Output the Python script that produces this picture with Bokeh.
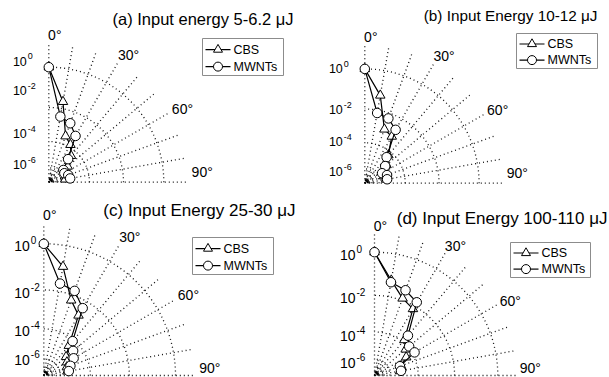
import math
from bokeh.plotting import figure
from bokeh.models import Range1d
from bokeh.layouts import column, row
from bokeh.embed import file_html
from bokeh.resources import INLINE
from bokeh.core.properties import value

# ---------------- data (log10 of normalised intensity) ----------------
angle_deg = [0, 10, 20, 30, 40, 50, 60, 70, 80]
titles = ["(a) Input energy 5-6.2 \u03bcJ", "(b) Input Energy 10-12 \u03bcJ",
          "(c) Input Energy 25-30 \u03bcJ", "(d) Input Energy 100-110 \u03bcJ"]
series_names = ["CBS", "MWNTs"]
cbs_a = [0.0, -1.63, -3.47, -3.83, -4.41, -5.14, -5.59, -5.74, -5.79]
mwnt_a = [0.0, -2.44, -2.66, -3.20, -4.73, -5.59, -5.68, -5.45, -5.37]
cbs_b = [0.0, -1.22, -2.95, -3.15, -4.25, -4.84, -5.34, -5.45, -5.36]
mwnt_b = [0.0, -2.16, -2.29, -2.70, -4.44, -4.97, -5.50, -5.20, -5.28]
cbs_c = [0.0, -0.88, -2.26, -2.78, -4.45, -5.08, -5.24, -5.39, -5.43]
mwnt_c = [0.0, -1.64, -1.79, -2.37, -4.10, -4.49, -4.73, -5.13, -5.33]
cbs_d = [0.0, -1.20, -1.90, -2.16, -3.83, -4.18, -4.44, -5.00, -5.17]
mwnt_d = [0.0, -1.29, -1.48, -1.78, -3.50, -3.90, -3.84, -5.09, -5.10]
ring_exponents = [0, -2, -4, -6]
angle_ticks = [0, 30, 60, 90]
spoke_angles = [0, 10, 20, 30, 40, 50, 60, 70, 80, 90]

FONT = value("Liberation Sans")


def to_u(logv):
    # radial coordinate of the polar-log display
    return (logv + 8.0) ** 1.5


U_MAX = to_u(0)

layouts = [
    dict(box=(0, 0, 300, 195), origin=(48.3, 181.7, 115.0), spoke=27.2, ulab=29.0,
         title=(293, 18, "right", "16.5px"), leg=(202, 38, 283, 75),
         lab_dx=-22, lab_dy=[-6, -17, -8, -3], lab_size="12.5px", sup_size="9px", sup_dy=-5,
         d90=-10),
    dict(box=(300, 0, 309, 195), origin=(364.3, 182.7, 114.3), spoke=27.5, ulab=29.0,
         title=(597, 15, "right", "15.3px"), leg=(516, 33, 597, 68),
         lab_dx=-22, lab_dy=[0, 1, -1, 3], lab_size="12.5px", sup_size="9px", sup_dy=-5,
         d90=-10),
    dict(box=(0, 195, 300, 182), origin=(43.3, 375.0, 131.7), spoke=26.0, ulab=27.5,
         title=(295, 210, "right", "17px"), leg=(192, 237, 273, 274),
         lab_dx=-14, lab_dy=[2, 3, 2, 1], lab_size="14px", sup_size="10px", sup_dy=-6,
         d90=-8),
    dict(box=(300, 195, 309, 182), origin=(374.0, 375.0, 123.3), spoke=26.0, ulab=27.5,
         title=(607, 218, "right", "17px"), leg=(510, 242, 590, 277),
         lab_dx=-19, lab_dy=[3, 3, 4, 3], lab_size="14px", sup_size="10px", sup_dy=-6,
         d90=-8),
]

DOT = dict(line_color="#111111", line_width=1.3, line_dash="1 3")


def make_panel(cfg, cbs, mwnt, title):
    left, top, w, h = cfg["box"]
    ox, oy, R0 = cfg["origin"]
    s = R0 / U_MAX
    ol = ox - left
    ob = top + h - oy
    p = figure(width=w, height=h,
               x_range=Range1d(-ol / s, (w - ol) / s),
               y_range=Range1d(-ob / s, (h - ob) / s),
               x_axis_type=None, y_axis_type=None,
               output_backend="svg", toolbar_location=None,
               min_border=0, outline_line_color=None,
               background_fill_color="white", border_fill_color="white")

    def X(px):
        return (px - ox) / s

    def Y(py):
        return (oy - py) / s

    # spokes
    us = cfg["spoke"]
    p.segment(x0=[0] * len(spoke_angles), y0=[0] * len(spoke_angles),
              x1=[us * math.sin(math.radians(a)) for a in spoke_angles],
              y1=[us * math.cos(math.radians(a)) for a in spoke_angles], **DOT)
    # rings
    p.arc(x=[0] * len(ring_exponents), y=[0] * len(ring_exponents),
          radius=[to_u(e) for e in ring_exponents],
          start_angle=0, end_angle=math.pi / 2, **DOT)
    # crowded rings near the origin
    p.arc(x=[0, 0, 0], y=[0, 0, 0], radius=[1.0, 1.4, 1.8],
          start_angle=0, end_angle=math.pi / 2, **DOT)
    p.arc(x=[0], y=[0], radius=[0.6], start_angle=0, end_angle=math.pi / 2,
          line_color="black", line_width=2.2)

    # radial tick labels 10^n
    for e, dy in zip(ring_exponents, cfg["lab_dy"]):
        p.text(x=[0], y=[to_u(e)], text=["10"], text_align="right", text_baseline="middle",
               x_offset=cfg["lab_dx"], y_offset=dy, text_font=FONT,
               text_font_size=cfg["lab_size"], text_color="black")
        p.text(x=[0], y=[to_u(e)], text=[str(e)], text_align="left", text_baseline="middle",
               x_offset=cfg["lab_dx"] + 1, y_offset=dy + cfg["sup_dy"], text_font=FONT,
               text_font_size=cfg["sup_size"], text_color="black")

    # angle labels
    ul = cfg["ulab"]
    for t in angle_ticks:
        p.text(x=[ul * math.sin(math.radians(t))], y=[ul * math.cos(math.radians(t))],
               text=[f"{t}\u00b0"], text_align="center", text_baseline="middle",
               x_offset=6, y_offset=(cfg["d90"] if t == 90 else 0), text_font=FONT,
               text_font_size="14px", text_color="black")

    # title
    tx, ty, talign, tsize = cfg["title"]
    p.text(x=[X(tx)], y=[Y(ty)], text=[title], text_align=talign, text_baseline="middle",
           text_font=FONT, text_font_size=tsize, text_color="black")

    # data
    for vals, marker, size in ((cbs, "triangle", 9.5), (mwnt, "circle", 9.5)):
        xs = [to_u(v) * math.sin(math.radians(a)) for v, a in zip(vals, angle_deg)]
        ys = [to_u(v) * math.cos(math.radians(a)) for v, a in zip(vals, angle_deg)]
        p.line(xs, ys, line_color="black", line_width=1.2)
        p.scatter(xs, ys, marker=marker, size=size, fill_color="white",
                  line_color="black", line_width=1)

    # legend (box, sample lines, markers, labels)
    bl, bt, br, bb = cfg["leg"]
    p.quad(left=[X(bl)], right=[X(br)], top=[Y(bt)], bottom=[Y(bb)],
           fill_color="white", line_color="#8c8c8c", line_width=1)
    rows_y = [bt + (bb - bt) * 0.30, bt + (bb - bt) * 0.76]
    for name, ry, marker in zip(series_names, rows_y, ["triangle", "circle"]):
        p.line([X(bl + 3), X(bl + 28)], [Y(ry), Y(ry)], line_color="black", line_width=1.2)
        p.scatter([X(bl + 15.5)], [Y(ry)], marker=marker, size=9, fill_color="white",
                  line_color="black", line_width=1)
        p.text(x=[X(bl + 31)], y=[Y(ry)], text=[name], text_align="left",
               text_baseline="middle", text_font=FONT, text_font_size="12.5px",
               text_color="black")
    return p


pa = make_panel(layouts[0], cbs_a, mwnt_a, titles[0])
pb = make_panel(layouts[1], cbs_b, mwnt_b, titles[1])
pc = make_panel(layouts[2], cbs_c, mwnt_c, titles[2])
pd = make_panel(layouts[3], cbs_d, mwnt_d, titles[3])

layout = column(row(pa, pb), row(pc, pd))
open("out.html", "w").write(file_html(layout, INLINE))
